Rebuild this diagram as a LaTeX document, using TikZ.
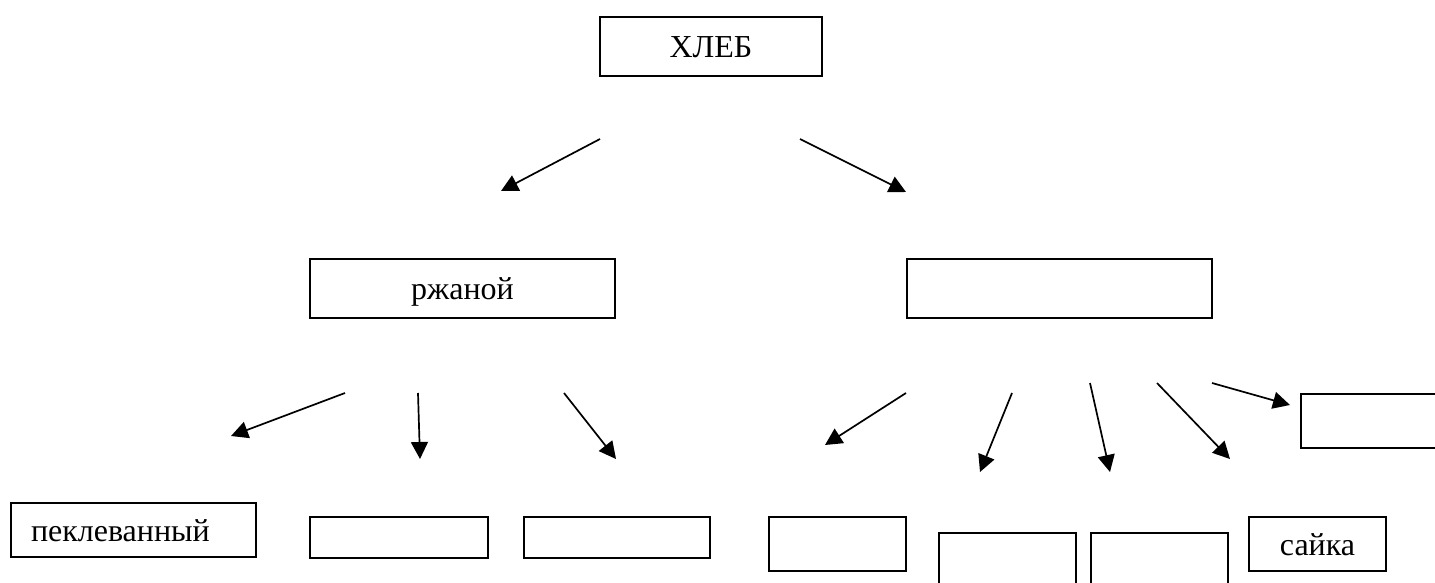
\documentclass[tikz,border=0pt]{standalone}
\usepackage{fontspec}
\setmainfont{Liberation Serif}
\usetikzlibrary{arrows.meta}

\begin{document}
\begin{tikzpicture}[x=1pt, y=-1pt,
  box/.style={draw=black, line width=2pt, inner sep=2pt, font=\fontsize{32pt}{38pt}\selectfont, text height=29pt, text depth=6.5pt},
  arr/.style={black, line width=1.7pt, -{Triangle[length=17pt, width=17pt]}}]
\useasboundingbox (0,0) rectangle (1435,583);

% boxes
\node[box, minimum width=222pt, minimum height=59pt] (hleb) at (711,46.5) {ХЛЕБ};
\node[box, minimum width=305pt, minimum height=59pt] (rzh) at (462.5,288.5) {ржаной};
\node[box, minimum width=305pt, minimum height=59pt] (psh) at (1059.5,288.5) {};

\node[box, minimum width=245pt, minimum height=54pt, text width=205pt, inner xsep=20pt, align=left] (pekl) at (133.5,530) {пеклеванный};
\node[box, minimum width=178pt, minimum height=41pt] (rzhB) at (399,537.5) {};
\node[box, minimum width=186pt, minimum height=41pt] (rzhC) at (617,537.5) {};

\node[box, minimum width=137pt, minimum height=54pt] (pshA) at (837.5,544) {};
\node[box, minimum width=137pt, minimum height=54pt] (pshB) at (1007.5,560) {};
\node[box, minimum width=137pt, minimum height=54pt] (pshC) at (1159,560) {};
\node[box, minimum width=137pt, minimum height=54pt] (sayka) at (1317.5,544) {сайка};
\node[box, minimum width=137pt, minimum height=54pt] (pshE) at (1369.5,421) {};

% arrow ends
\coordinate (hlebL) at (600,139);   \coordinate (hlebLt) at (501,191);
\coordinate (hlebR) at (800,139);   \coordinate (hlebRt) at (906,192);
\coordinate (rzh1) at (345,393);    \coordinate (rzh1t) at (231,436);
\coordinate (rzh2) at (418,393);    \coordinate (rzh2t) at (420,459);
\coordinate (rzh3) at (564,393);    \coordinate (rzh3t) at (616,459);
\coordinate (psh1) at (906,393);    \coordinate (psh1t) at (825,445);
\coordinate (psh2) at (1012,393);   \coordinate (psh2t) at (980,472);
\coordinate (psh3) at (1090,383);   \coordinate (psh3t) at (1110,472);
\coordinate (psh4) at (1157,383);   \coordinate (psh4t) at (1230,459);
\coordinate (psh5) at (1212,383);   \coordinate (psh5t) at (1290,405);

% arrows
\draw[arr] (hlebL) -- (hlebLt);
\draw[arr] (hlebR) -- (hlebRt);
\draw[arr] (rzh1) -- (rzh1t);
\draw[arr] (rzh2) -- (rzh2t);
\draw[arr] (rzh3) -- (rzh3t);
\draw[arr] (psh1) -- (psh1t);
\draw[arr] (psh2) -- (psh2t);
\draw[arr] (psh3) -- (psh3t);
\draw[arr] (psh4) -- (psh4t);
\draw[arr] (psh5) -- (psh5t);

\end{tikzpicture}
\end{document}
